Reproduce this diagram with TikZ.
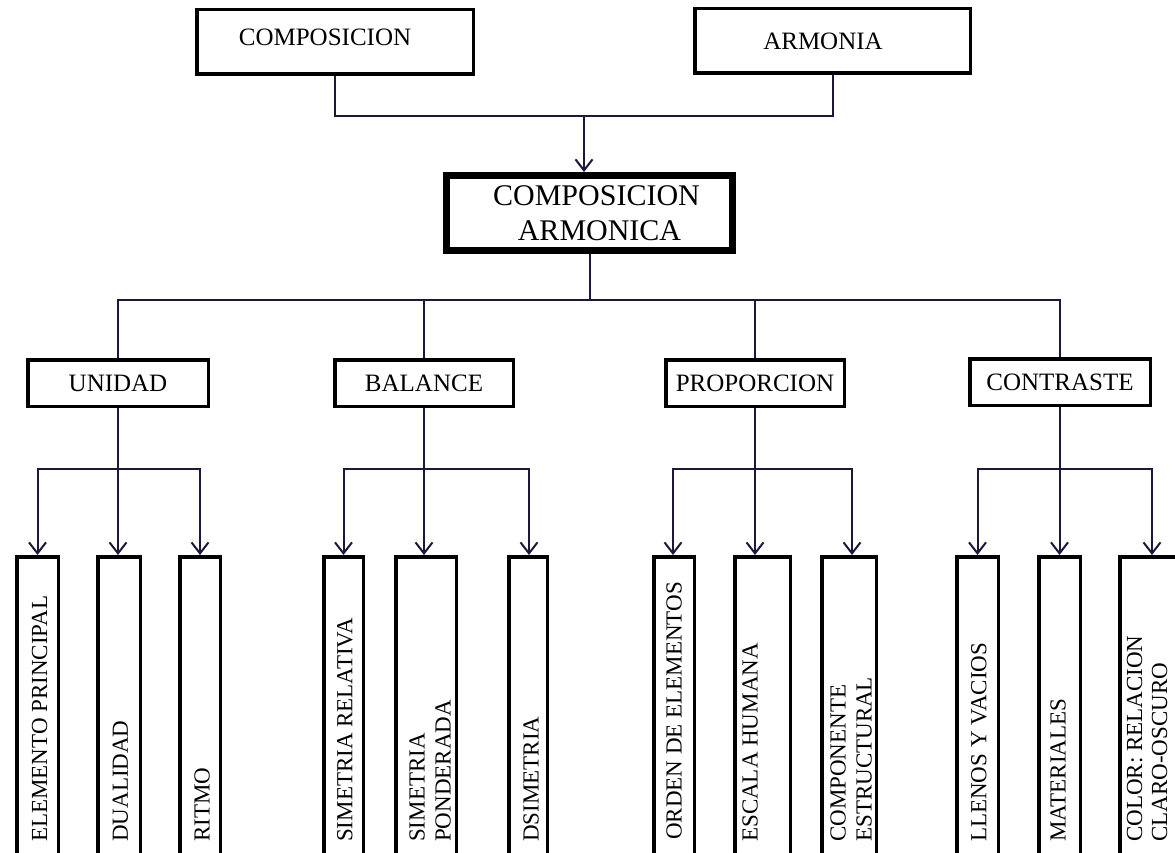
\documentclass[tikz,border=0pt]{standalone}
\usepackage{fontspec}
\setmainfont{Liberation Serif}
\usetikzlibrary{arrows.meta}
\definecolor{conncol}{RGB}{28,24,58}
\begin{document}
\begin{tikzpicture}[x=1pt,y=-1pt,
  box/.style={draw=black, line width=3.5pt, inner sep=0pt, font=\fontsize{25}{30}\selectfont},
  cabox/.style={draw=black, line width=7pt, inner sep=0pt, align=center, font=\fontsize{30}{35}\selectfont},
  leaf/.style={draw=black, line width=3.5pt, inner sep=0pt, minimum height=311.5pt},
  leaftext/.style={rotate=90, anchor=west, inner sep=0pt, align=left, font=\fontsize{23}{26}\selectfont},
  conn/.style={draw=conncol, line width=2pt},
  arr/.style={conn, -{Straight Barb[length=11pt,width=17pt,line width=2pt]}},
]
\useasboundingbox (0,0) rectangle (1175,853);
\clip (0,0) rectangle (1175,853);
\fill[white] (0,0) rectangle (1175,853);

% top level
\node[box, minimum width=276.5pt, minimum height=64.5pt, text depth=9pt] (comp) at (335,42) {\hspace*{-20pt}COMPOSICION};
\node[box, minimum width=275.5pt, minimum height=64.5pt] (armo) at (832.5,41) {\hspace*{-19pt}ARMONIA};
\node[cabox, minimum width=286pt, minimum height=75pt] (ca) at (589.5,213) {\hspace*{14pt}COMPOSICION\\\hspace*{20pt}ARMONICA};

% second level
\node[box, minimum width=180.5pt, minimum height=46.5pt] (uni) at (118,383) {UNIDAD};
\node[box, minimum width=178.5pt, minimum height=46.5pt] (bal) at (424,383) {BALANCE};
\node[box, minimum width=178.5pt, minimum height=46.5pt] (pro) at (755,383) {PROPORCION};
\node[box, minimum width=180.5pt, minimum height=46.5pt] (con) at (1060,382) {CONTRASTE};

% third level boxes
\node[leaf, minimum width=41.5pt] (ep) at (37.5,712.5) {};
\node[leaf, minimum width=42.5pt] (du) at (119,712.5) {};
\node[leaf, minimum width=40.5pt] (ri) at (200,712.5) {};
\node[leaf, minimum width=39.5pt] (sr) at (343.5,712.5) {};
\node[leaf, minimum width=60.5pt] (sp) at (426,712.5) {};
\node[leaf, minimum width=38.5pt] (ds) at (528,712.5) {};
\node[leaf, minimum width=40.5pt] (oe) at (674,712.5) {};
\node[leaf, minimum width=55.5pt] (eh) at (762.5,712.5) {};
\node[leaf, minimum width=54.5pt] (ce) at (849,712.5) {};
\node[leaf, minimum width=41.5pt] (lv) at (977.5,712.5) {};
\node[leaf, minimum width=41.5pt] (ma) at (1059.5,712.5) {};
\node[leaf, minimum width=64.5pt] (co) at (1152,712.5) {};

% third level texts
\node[leaftext] (ept) at (39.5,842) {ELEMENTO PRINCIPAL};
\node[leaftext] (dut) at (120.5,842) {DUALIDAD};
\node[leaftext] (rit) at (202,842) {RITMO};
\node[leaftext] (srt) at (345,842) {SIMETRIA RELATIVA};
\node[leaftext] (spt) at (430,842) {SIMETRIA\\PONDERADA};
\node[leaftext] (dst) at (531,842) {DSIMETRIA};
\node[leaftext] (oet) at (674,840) {ORDEN DE ELEMENTOS};
\node[leaftext] (eht) at (750,842) {ESCALA HUMANA};
\node[leaftext] (cet) at (851,842) {COMPONENTE\\ESTRUCTURAL};
\node[leaftext] (lvt) at (979,842) {LLENOS Y VACIOS};
\node[leaftext] (mat) at (1058,842) {MATERIALES};
\node[leaftext, font=\fontsize{23}{25}\selectfont] (cot) at (1147,842) {COLOR: RELACION\\CLARO-OSCURO};

% connectors top
\coordinate (j1) at (584,116);
\draw[conn] (comp.south) |- (j1) -| (armo.south);
\draw[arr] (j1) -- ([xshift=-5.5pt]ca.north);

\coordinate (j2) at (589.5,300);
\draw[conn] (ca.south) -- (j2);
\draw[conn] (uni.north) |- (j2) -| (con.north);
\draw[conn] (bal.north) -- (bal.north |- j2);
\draw[conn] (pro.north) -- (pro.north |- j2);

% sub buses
\coordinate (su) at (118,469);
\coordinate (sb) at (424,469);
\coordinate (sq) at (755,469);
\coordinate (sc) at (1060,469);
\draw[conn] (uni.south) -- (su);
\draw[conn] (bal.south) -- (sb);
\draw[conn] (pro.south) -- (sq);
\draw[conn] (con.south) -- (sc);

\draw[arr] (su) -| (ep.north);
\draw[arr] (su) -| ([xshift=-1pt]du.north);
\draw[arr] (su) -| (ri.north);

\draw[arr] (sb) -| (sr.north);
\draw[arr] (sb) -| ([xshift=-2pt]sp.north);
\draw[arr] (sb) -| ([xshift=1pt]ds.north);

\draw[arr] (sq) -| ([xshift=-1pt]oe.north);
\draw[arr] (sq) -| ([xshift=-7.5pt]eh.north);
\draw[arr] (sq) -| ([xshift=3pt]ce.north);

\draw[arr] (sc) -| (lv.north);
\draw[arr] (sc) -| (ma.north);
\draw[arr] (sc) -| (co.north);
\end{tikzpicture}
\end{document}
